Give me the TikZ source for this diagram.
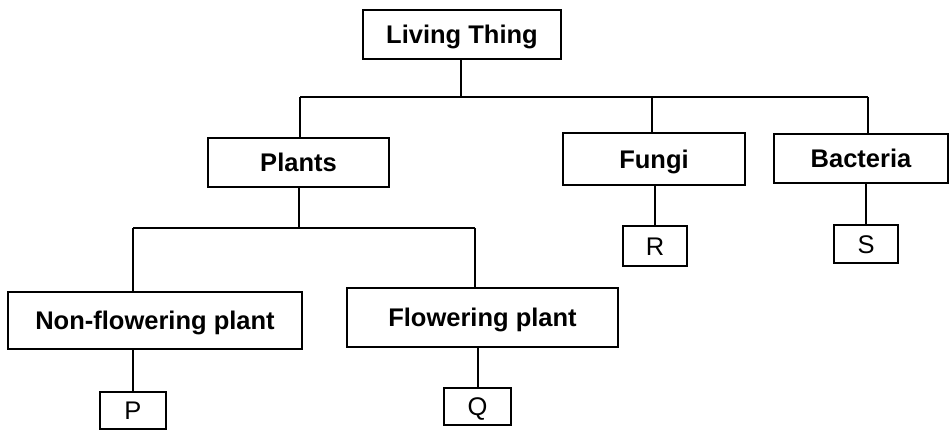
\documentclass[tikz,border=0pt]{standalone}
\usepackage{fontspec}
\setmainfont{Liberation Sans}
\begin{document}
\begin{tikzpicture}[x=1pt,y=-1pt,
  box/.style={draw=black,line width=2pt,inner sep=0pt,text height=18.3pt,text depth=0pt,font=\fontsize{25.5}{30}\selectfont\bfseries},
  leaf/.style={box,font=\fontsize{25.5}{30}\selectfont},
  conn/.style={line width=2pt}]
\useasboundingbox (0,0) rectangle (949,430);
% nodes
\node[box,minimum width=198pt,minimum height=49pt] (LT) at (462,34.5) {Living Thing};
\node[box,minimum width=181pt,minimum height=49pt] (Plants) at (298.5,162.5) {Plants};
\node[box,minimum width=182pt,minimum height=52pt] (Fungi) at (654,159) {Fungi};
\node[box,minimum width=174pt,minimum height=49pt] (Bacteria) at (861,158.5) {Bacteria};
\node[leaf,minimum width=64pt,minimum height=40pt] (R) at (655,246) {R};
\node[leaf,minimum width=64pt,minimum height=38pt] (S) at (866,244) {S};
\node[box,minimum width=294pt,minimum height=57pt] (NF) at (155,320.5) {Non-flowering plant};
\node[box,minimum width=271pt,minimum height=59pt] (FP) at (482.5,317.5) {Flowering plant};
\node[leaf,minimum width=66pt,minimum height=37pt] (P) at (133,410.5) {P};
\node[leaf,minimum width=67pt,minimum height=37pt] (Q) at (477.5,406.5) {Q};
% bus coordinates
\coordinate (b1L) at (300,97);
\coordinate (b1M) at (461,97);
\coordinate (b1F) at (652,97);
\coordinate (b1R) at (868,97);
\coordinate (b2L) at (133,228);
\coordinate (b2M) at (299,228);
\coordinate (b2R) at (475,228);
% connectors
\draw[conn] (LT.south -| b1M) -- (b1M);
\draw[conn] (b1L) -- (b1R);
\draw[conn] (b1L) -- (Plants.north -| b1L);
\draw[conn] (b1F) -- (Fungi.north -| b1F);
\draw[conn] (b1R) -- (Bacteria.north -| b1R);
\draw[conn] (Plants.south -| b2M) -- (b2M);
\draw[conn] (b2L) -- (b2R);
\draw[conn] (b2L) -- (NF.north -| b2L);
\draw[conn] (b2R) -- (FP.north -| b2R);
\draw[conn] (NF.south -| P) -- (P.north);
\draw[conn] (FP.south -| Q) -- (Q.north);
\draw[conn] (Fungi.south -| R) -- (R.north);
\draw[conn] (Bacteria.south -| S) -- (S.north);
\end{tikzpicture}
\end{document}
